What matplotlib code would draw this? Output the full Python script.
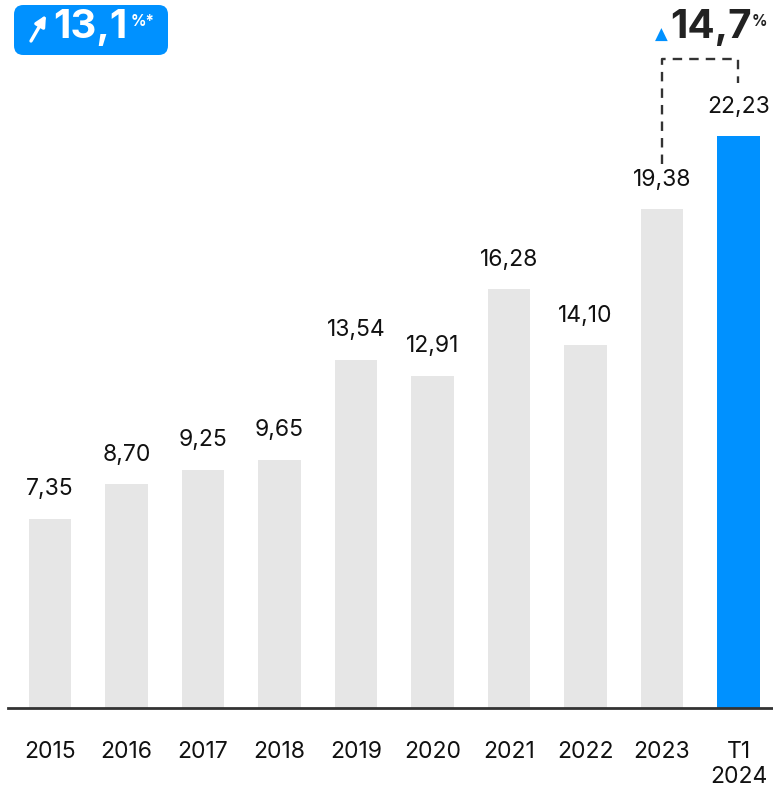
import matplotlib
matplotlib.use("Agg")
import matplotlib.pyplot as plt
from matplotlib.patches import FancyBboxPatch

plt.rcParams['font.family'] = ['Inter', 'DejaVu Sans']

years = ["2015", "2016", "2017", "2018", "2019", "2020", "2021", "2022", "2023", "T1\n2024"]
values = [7.35, 8.70, 9.25, 9.65, 13.54, 12.91, 16.28, 14.10, 19.38, 22.23]
labels = ["7,35", "8,70", "9,25", "9,65", "13,54", "12,91", "16,28", "14,10", "19,38", "22,23"]
growth_total = "13,1"
growth_last = "14,7"

BLUE = "#0091FF"
GRAY = "#E6E6E6"
DARK = "#333333"

fig = plt.figure(figsize=(7.73, 7.88), dpi=100)
ax = fig.add_axes([8 / 773, 80 / 788, 765 / 773, 708 / 788])

x = list(range(len(values)))
colors = [GRAY] * (len(values) - 1) + [BLUE]
ax.bar(x, values, width=0.56, color=colors, zorder=2)

for xi, v, lab in zip(x, values, labels):
    ax.text(xi, v + 1.15, lab, ha="center", va="center", fontsize=16.5, color="#111111")

ax.set_xlim(-0.549, 9.451)
ax.set_ylim(0, 27.52)
for s in ["top", "right", "left"]:
    ax.spines[s].set_visible(False)
ax.spines["bottom"].set_color(DARK)
ax.spines["bottom"].set_linewidth(2)
ax.set_yticks([])
ax.set_xticks(x)
ax.set_xticklabels(years, fontsize=16.5, color="#111111", linespacing=1.15, va="top")
ax.tick_params(axis="x", length=0, pad=24)

# dashed bracket between last two bars
y_top = values[-1] + 3.0
ax.plot([8, 8, 9, 9], [values[-2] + 1.75, y_top, y_top, values[-1] + 2.05],
        color=DARK, lw=1.7, ls=(0, (4, 3)), clip_on=False)

# growth note top right
fig.text(655 / 773, 1 - 35 / 788, "▲", color=BLUE, fontsize=12, ha="left", va="center",
         family=["DejaVu Sans"])
fig.text(670 / 773, 1 - 28 / 788, growth_last, color="#222222", fontsize=29, fontweight="bold",
         ha="left", va="center")
fig.text(752 / 773, 1 - 22 / 788, "%", color="#222222", fontsize=11, fontweight="bold",
         ha="left", va="center")

# badge top left
badge = FancyBboxPatch((14 / 773, 1 - 55 / 788), 154 / 773, 50 / 788,
                       boxstyle="round,pad=0,rounding_size=0.012",
                       transform=fig.transFigure, facecolor=BLUE, edgecolor="none")
fig.patches.append(badge)
fig.add_artist(plt.Annotation("", xy=(46, 788 - 15), xytext=(31, 788 - 41),
                              xycoords="figure pixels", textcoords="figure pixels",
                              arrowprops=dict(arrowstyle="-|>", color="white", lw=2.4,
                                              mutation_scale=16, shrinkA=0, shrinkB=0)))
fig.text(53 / 773, 1 - 28 / 788, growth_total, color="white", fontsize=29, fontweight="bold",
         ha="left", va="center")
fig.text(131 / 773, 1 - 21 / 788, "%*", color="white", fontsize=11, fontweight="bold",
         ha="left", va="center")

fig.savefig("out.png", dpi=100)
